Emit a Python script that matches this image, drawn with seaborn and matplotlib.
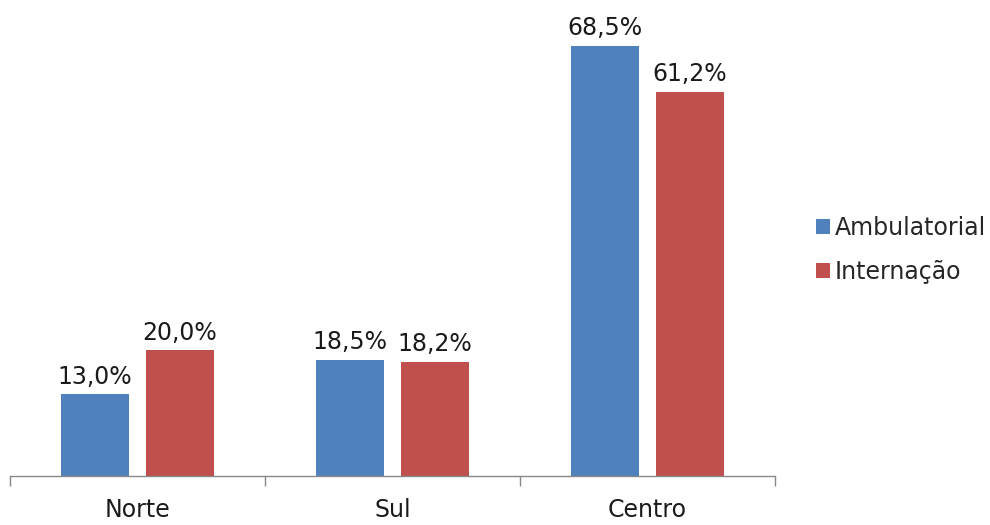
import pandas as pd
import matplotlib
matplotlib.use("Agg")
import matplotlib.pyplot as plt
import seaborn as sns

regions = ["Norte", "Sul", "Centro"]
series = ["Ambulatorial", "Internação"]
ambulatorial = [13.0, 18.5, 68.5]
internacao = [20.0, 18.2, 61.2]
colors = ["#4F81BD", "#C0504D"]

df = pd.DataFrame({
    "Região": regions * 2,
    "Tipo": [series[0]] * 3 + [series[1]] * 3,
    "Valor": ambulatorial + internacao,
})

sns.set_style("white")
plt.rcParams["font.family"] = ["DejaVu Sans"]

fig = plt.figure(figsize=(9.9, 5.25), dpi=100)
ax = fig.add_axes([10 / 990, 49 / 525, 765 / 990, 476 / 525])

sns.barplot(data=df, x="Região", y="Valor", hue="Tipo", order=regions,
            hue_order=series, palette=colors, width=0.667, gap=0.21,
            saturation=1, linewidth=0, ax=ax)

for cont in ax.containers:
    ax.bar_label(cont, labels=[f"{v:.1f}%".replace(".", ",") for v in cont.datavalues],
                 padding=4, fontsize=17, color="#1a1a1a")

ax.set_xlim(-0.5, 2.5)
ax.set_ylim(0, 75.8)
ax.set_xlabel("")
ax.set_ylabel("")
ax.set_yticks([])
for s in ["top", "right", "left"]:
    ax.spines[s].set_visible(False)
ax.spines["bottom"].set_color("#888888")
ax.spines["bottom"].set_linewidth(1)

# category labels centred, tick marks on group boundaries
ax.set_xticks([0, 1, 2])
ax.set_xticklabels(regions, fontsize=17, color="#1a1a1a")
ax.tick_params(axis="x", which="major", length=0, pad=16)
ax.set_xticks([-0.5, 0.5, 1.5, 2.5], minor=True)
ax.tick_params(axis="x", which="minor", bottom=True, length=7, color="#888888",
               width=1, direction="out")

handles, labels = ax.get_legend_handles_labels()
ax.legend(handles, labels, loc="center left", bbox_to_anchor=(816 / 990, 1 - 250 / 525),
          bbox_transform=fig.transFigure, frameon=False, fontsize=17,
          handlelength=0.58, handleheight=0.58, handletextpad=0.2,
          labelspacing=0.85, borderpad=0, borderaxespad=0)

fig.savefig("out.png", dpi=100)
